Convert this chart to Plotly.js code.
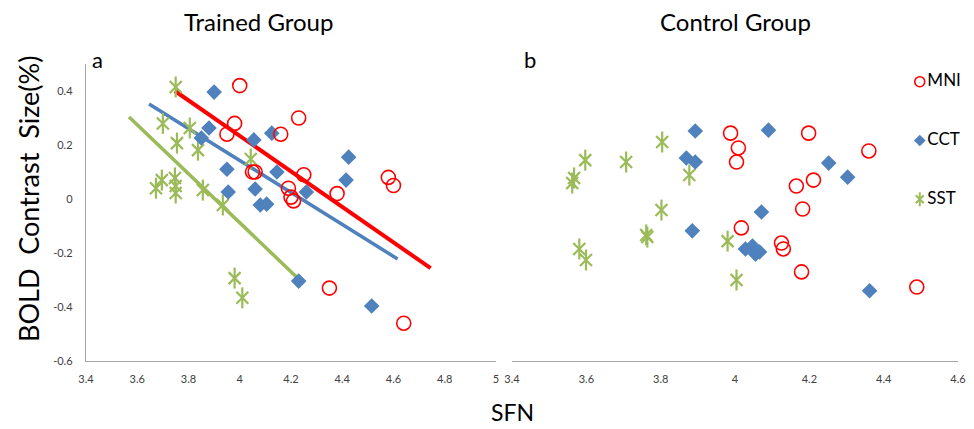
<!DOCTYPE html>
<html>
<head>
<meta charset="utf-8">
<script src="https://cdn.plot.ly/plotly-3.0.1.min.js"></script>
<style>html,body{margin:0;padding:0;background:#fff;}#chart{width:974px;height:429px;}</style>
</head>
<body>
<div id="chart"></div>
<script>
// ---- Data ----
const leftMNI_x = [4.00, 3.98, 3.95, 4.23, 4.16, 4.05, 4.06, 4.25, 4.19, 4.20, 4.21, 4.38, 4.58, 4.60, 4.35, 4.64];
const leftMNI_y = [0.42, 0.28, 0.24, 0.30, 0.24, 0.10, 0.10, 0.09, 0.04, 0.007, -0.007, 0.02, 0.08, 0.05, -0.33, -0.46];
const leftCCT_x = [3.90, 3.88, 3.85, 4.055, 4.125, 3.95, 4.145, 4.06, 3.955, 4.26, 4.08, 4.105, 4.425, 4.415, 4.23, 4.515];
const leftCCT_y = [0.396, 0.263, 0.226, 0.219, 0.244, 0.11, 0.10, 0.037, 0.026, 0.026, -0.022, -0.019, 0.155, 0.07, -0.304, -0.396];
const leftSST_x = [3.75, 3.70, 3.805, 3.755, 3.837, 4.043, 3.696, 3.747, 3.673, 3.75, 3.75, 3.856, 3.934, 3.98, 4.01];
const leftSST_y = [0.415, 0.28, 0.263, 0.207, 0.181, 0.148, 0.07, 0.078, 0.04, 0.048, 0.022, 0.033, -0.022, -0.293, -0.366];

const trendMNI_x = [3.747, 4.745], trendMNI_y = [0.40, -0.256];
const trendCCT_x = [3.646, 4.616], trendCCT_y = [0.352, -0.222];
const trendSST_x = [3.568, 4.246], trendSST_y = [0.304, -0.311];

const rightMNI_x = [3.988, 4.009, 4.004, 4.017, 4.198, 4.36, 4.211, 4.165, 4.182, 4.125, 4.13, 4.179, 4.489];
const rightMNI_y = [0.244, 0.189, 0.137, -0.107, 0.244, 0.178, 0.07, 0.048, -0.037, -0.163, -0.185, -0.27, -0.326];
const rightCCT_x = [3.893, 3.869, 3.893, 3.885, 4.09, 4.252, 4.303, 4.071, 4.028, 4.047, 4.055, 4.066, 4.362];
const rightCCT_y = [0.252, 0.152, 0.137, -0.118, 0.255, 0.133, 0.081, -0.048, -0.185, -0.174, -0.204, -0.196, -0.34];
const rightSST_x = [3.804, 3.597, 3.707, 3.877, 3.567, 3.562, 3.802, 3.761, 3.764, 3.581, 3.599, 3.98, 4.004];
const rightSST_y = [0.211, 0.144, 0.137, 0.089, 0.078, 0.059, -0.041, -0.133, -0.141, -0.185, -0.226, -0.156, -0.30];

const seriesNames = ['MNI', 'CCT', 'SST'];
const leftXTicks = [3.4, 3.6, 3.8, 4, 4.2, 4.4, 4.6, 4.8, 5];
const leftXTickText = ['3.4', '3.6', '3.8', '4', '4.2', '4.4', '4.6', '4.8', '5'];
const rightXTicks = [3.4, 3.6, 3.8, 4, 4.2, 4.4, 4.6];
const rightXTickText = ['3.4', '3.6', '3.8', '4', '4.2', '4.4', '4.6'];
const yTicks = [0.4, 0.2, 0, -0.2, -0.4, -0.6];
const yTickText = ['0.4', '0.2', '0', '-0.2', '-0.4', '-0.6'];

// ---- Styles ----
const RED = '#ff0000', BLUE = '#4f81bd', GREEN = '#9bbb59';
const FONT = 'Lato, "Open Sans", sans-serif';
const mkMNI = {symbol: 'circle-open', size: 14, color: RED, line: {width: 1.6, color: RED}};
const mkCCT = {symbol: 'diamond', size: 12, color: BLUE};
const mkSSTx = {symbol: 'x-thin-open', size: 12, color: GREEN, line: {width: 2.2, color: GREEN}};
const mkSSTv = {symbol: 'line-ns-open', size: 15, color: GREEN, line: {width: 2.2, color: GREEN}};

function pts(x, y, marker, xa, ya) {
  return {type: 'scatter', mode: 'markers', x: x, y: y, marker: marker, xaxis: xa, yaxis: ya,
          cliponaxis: false, hoverinfo: 'skip', showlegend: false};
}
function line(x, y, color, width) {
  return {type: 'scatter', mode: 'lines', x: x, y: y, line: {color: color, width: width},
          xaxis: 'x', yaxis: 'y', hoverinfo: 'skip', showlegend: false};
}

const legRows = seriesNames.map((_, i) => i);
const legZero = seriesNames.map(() => 0);

const data = [
  line(trendSST_x, trendSST_y, GREEN, 3.5),
  line(trendCCT_x, trendCCT_y, BLUE, 3.5),
  line(trendMNI_x, trendMNI_y, RED, 4),
  pts(leftSST_x, leftSST_y, mkSSTx, 'x', 'y'),
  pts(leftSST_x, leftSST_y, mkSSTv, 'x', 'y'),
  pts(leftCCT_x, leftCCT_y, mkCCT, 'x', 'y'),
  pts(leftMNI_x, leftMNI_y, mkMNI, 'x', 'y'),
  pts(rightSST_x, rightSST_y, mkSSTx, 'x2', 'y2'),
  pts(rightSST_x, rightSST_y, mkSSTv, 'x2', 'y2'),
  pts(rightCCT_x, rightCCT_y, mkCCT, 'x2', 'y2'),
  pts(rightMNI_x, rightMNI_y, mkMNI, 'x2', 'y2'),
  // legend (own small axes)
  pts([legZero[0]], [legRows[0]], {symbol: 'circle-open', size: 10, color: RED, line: {width: 1.6, color: RED}}, 'x3', 'y3'),
  pts([legZero[1]], [legRows[1]], {symbol: 'diamond', size: 9, color: BLUE}, 'x3', 'y3'),
  pts([legZero[2]], [legRows[2]], {symbol: 'x-thin-open', size: 8, color: GREEN, line: {width: 2, color: GREEN}}, 'x3', 'y3'),
  pts([legZero[2]], [legRows[2]], {symbol: 'line-ns-open', size: 10, color: GREEN, line: {width: 2, color: GREEN}}, 'x3', 'y3'),
  {type: 'scatter', mode: 'text', x: legZero.map(v => v + 0.14), y: legRows, text: seriesNames,
   textposition: 'middle right', textfont: {family: FONT, size: 17, color: '#000'},
   xaxis: 'x3', yaxis: 'y3', cliponaxis: false, hoverinfo: 'skip', showlegend: false}
];

const axisBase = {showgrid: false, zeroline: false, ticks: '', fixedrange: true,
  tickfont: {family: FONT, size: 11, color: '#404040'}};
const yDom = [0.1585, 0.8508];

const layout = {
  width: 974, height: 429,
  margin: {l: 0, r: 0, t: 0, b: 0},
  paper_bgcolor: '#fff', plot_bgcolor: 'rgba(0,0,0,0)',
  showlegend: false,
  font: {family: FONT},
  xaxis: Object.assign({}, axisBase, {domain: [0.0883, 0.5092], range: [3.4, 5], anchor: 'y',
    showline: true, linecolor: '#a6a6a6', linewidth: 1.2,
    tickmode: 'array', tickvals: leftXTicks, ticktext: leftXTickText, ticklabelstandoff: 8}),
  yaxis: Object.assign({}, axisBase, {domain: yDom, range: [-0.6, 0.5], anchor: 'x',
    showline: true, linecolor: '#a6a6a6', linewidth: 1.2,
    tickmode: 'array', tickvals: yTicks, ticktext: yTickText, ticklabelstandoff: 10}),
  xaxis2: Object.assign({}, axisBase, {domain: [0.5257, 0.9836], range: [3.4, 4.6], anchor: 'y2',
    showline: true, linecolor: '#a6a6a6', linewidth: 1.2,
    tickmode: 'array', tickvals: rightXTicks, ticktext: rightXTickText, ticklabelstandoff: 8}),
  yaxis2: Object.assign({}, axisBase, {domain: yDom, range: [-0.6, 0.5], anchor: 'x2',
    showline: false, showticklabels: false}),
  xaxis3: {domain: [0.9343, 1], range: [-0.18, 1], visible: false, fixedrange: true, anchor: 'y3'},
  yaxis3: {domain: [0.508, 0.837], range: [2.2, -0.2], visible: false, fixedrange: true, anchor: 'x3'},
  annotations: [
    {text: 'Trained Group', xref: 'paper', yref: 'paper', x: 258/974, y: 1 - 21/429,
     showarrow: false, font: {family: FONT, size: 24, color: '#000'}, xanchor: 'center', yanchor: 'middle'},
    {text: 'Control Group', xref: 'paper', yref: 'paper', x: 735/974, y: 1 - 21/429,
     showarrow: false, font: {family: FONT, size: 24, color: '#000'}, xanchor: 'center', yanchor: 'middle'},
    {text: 'a', xref: 'paper', yref: 'paper', x: 97/974, y: 1 - 59/429,
     showarrow: false, font: {family: FONT, size: 22, color: '#000'}, xanchor: 'center', yanchor: 'middle'},
    {text: 'b', xref: 'paper', yref: 'paper', x: 530/974, y: 1 - 59/429,
     showarrow: false, font: {family: FONT, size: 22, color: '#000'}, xanchor: 'center', yanchor: 'middle'},
    {text: 'SFN', xref: 'paper', yref: 'paper', x: 512/974, y: 1 - 412/429,
     showarrow: false, font: {family: FONT, size: 23, color: '#000'}, xanchor: 'center', yanchor: 'middle'},
    {text: 'BOLD\u00a0 Contrast\u00a0 Size(%)', xref: 'paper', yref: 'paper', x: 29/974, y: 1 - 199/429,
     textangle: -90, showarrow: false, font: {family: FONT, size: 27, color: '#000'},
     xanchor: 'center', yanchor: 'middle'}
  ]
};

Plotly.newPlot('chart', data, layout, {staticPlot: true, displayModeBar: false});
</script>
</body>
</html>
